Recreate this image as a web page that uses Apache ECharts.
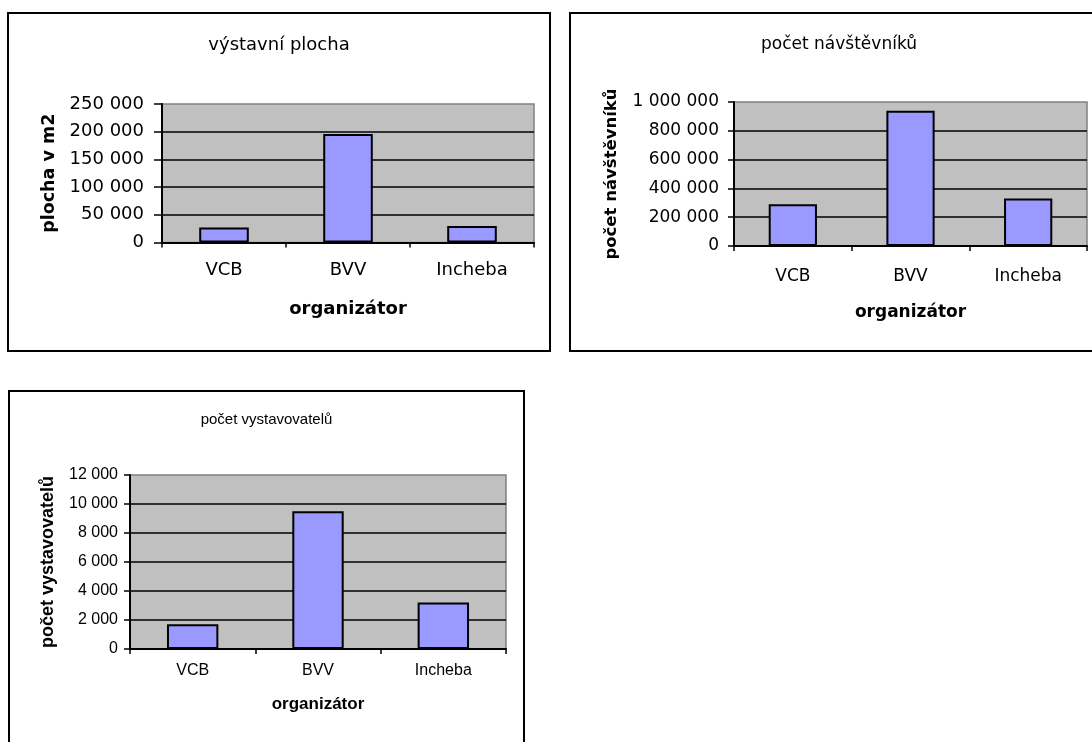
<!DOCTYPE html>
<html>
<head>
<meta charset="utf-8">
<script src="https://cdn.jsdelivr.net/npm/echarts@6/dist/echarts.min.js"></script>
<style>
  html, body { margin: 0; padding: 0; background: #fff; overflow: hidden; width: 1092px; height: 742px; }
  .box { position: absolute; box-sizing: border-box; border: 2px solid #000; background: #fff; }
  #chart-plocha { left: 7px; top: 12px; width: 544px; height: 340px; }
  #chart-navstevnici { left: 569px; top: 12px; width: 540px; height: 340px; }
  #chart-vystavovatele { left: 8px; top: 390px; width: 517px; height: 370px; }
</style>
</head>
<body>
<div id="chart-plocha" class="box"></div>
<div id="chart-navstevnici" class="box"></div>
<div id="chart-vystavovatele" class="box"></div>
<script>
// data
var categories = ['VCB', 'BVV', 'Incheba']
var plochaValues = [27000, 196000, 30000]
var navstevniciValues = [290000, 940000, 330000]
var vystavovateleValues = [1700, 9500, 3200]

// 1 000 000 style
function fmt(v) {
  return String(v).replace(/\B(?=(\d{3})+(?!\d))/g, ' ')
}

function makeChart(id, cfg) {
  var chart = echarts.init(document.getElementById(id))
  var font = cfg.font
  chart.setOption({
    animation: false,
    title: {
      text: cfg.title,
      left: 'center',
      top: cfg.titleTop,
      textStyle: { fontFamily: font, fontSize: cfg.titleSize, fontWeight: 'normal', color: '#000' },
    },
    grid: {
      left: cfg.grid[0],
      top: cfg.grid[1],
      width: cfg.grid[2],
      height: cfg.grid[3],
      show: true,
      backgroundColor: '#c0c0c0',
      borderColor: '#808080',
      borderWidth: 1.5,
    },
    xAxis: {
      type: 'category',
      data: categories,
      name: 'organizátor',
      nameLocation: 'middle',
      nameGap: cfg.xNameGap,
      nameTextStyle: { fontFamily: font, fontSize: cfg.xNameSize, fontWeight: 'bold', color: '#000' },
      axisLine: { lineStyle: { color: '#000', width: 2 } },
      axisTick: { show: true, length: 5, lineStyle: { color: '#000', width: 1.5 } },
      axisLabel: { margin: cfg.catMargin, fontFamily: font, fontSize: cfg.catSize, color: '#000' },
    },
    yAxis: {
      type: 'value',
      min: 0,
      max: cfg.max,
      interval: cfg.interval,
      name: cfg.yName,
      nameLocation: 'middle',
      nameGap: cfg.yNameGap,
      nameTextStyle: { fontFamily: font, fontSize: cfg.yNameSize, fontWeight: 'bold', color: '#000' },
      axisLine: { show: true, lineStyle: { color: '#000', width: 2 } },
      axisTick: { show: true, length: cfg.tickLen, lineStyle: { color: '#000', width: 1.5 } },
      axisLabel: { margin: cfg.labelMargin, fontFamily: font, fontSize: cfg.labelSize, color: '#000', formatter: fmt },
      splitLine: { show: true, showMaxLine: false, lineStyle: { color: '#000', width: 1.6 } },
    },
    series: [
      {
        type: 'bar',
        data: cfg.values,
        barWidth: cfg.barWidth,
        itemStyle: { color: '#9999ff', borderColor: '#000', borderWidth: 2 },
      },
    ],
  })
  return chart
}

makeChart('chart-plocha', {
  font: 'DejaVu Sans',
  title: 'výstavní plocha',
  titleTop: 17,
  titleSize: 18,
  grid: [153, 90, 372, 138.5],
  max: 250000,
  interval: 50000,
  values: plochaValues,
  yName: 'plocha v m2',
  yNameGap: 103,
  yNameSize: 17.5,
  xNameGap: 58,
  xNameSize: 18,
  catMargin: 19,
  catSize: 18,
  labelMargin: 18,
  labelSize: 18,
  tickLen: 8,
  barWidth: '40%',
})

makeChart('chart-navstevnici', {
  font: 'DejaVu Sans',
  title: 'počet návštěvníků',
  titleTop: 17,
  titleSize: 17,
  grid: [163, 88, 353, 144],
  max: 1000000,
  interval: 200000,
  values: navstevniciValues,
  yName: 'počet návštěvníků',
  yNameGap: 114,
  yNameSize: 16.5,
  xNameGap: 58,
  xNameSize: 17,
  catMargin: 22,
  catSize: 17,
  labelMargin: 15,
  labelSize: 17,
  tickLen: 6,
  barWidth: '41%',
})

makeChart('chart-vystavovatele', {
  font: 'Liberation Sans',
  title: 'počet vystavovatelů',
  titleTop: 15,
  titleSize: 15,
  grid: [120, 83, 376, 174],
  max: 12000,
  interval: 2000,
  values: vystavovateleValues,
  yName: 'počet vystavovatelů',
  yNameGap: 73,
  yNameSize: 18,
  xNameGap: 47,
  xNameSize: 17,
  catMargin: 14,
  catSize: 16,
  labelMargin: 12,
  labelSize: 16,
  tickLen: 6,
  barWidth: '41%',
})
</script>
</body>
</html>
